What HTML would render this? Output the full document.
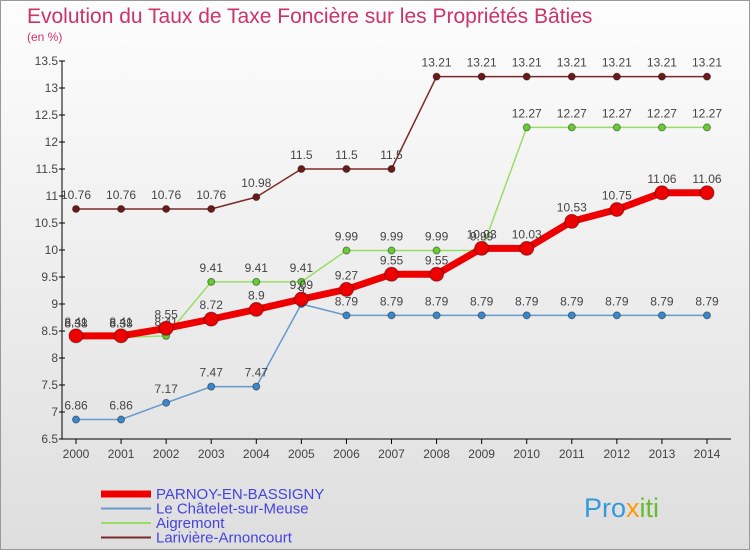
<!DOCTYPE html>
<html><head><meta charset="utf-8"><style>
body{margin:0}
#c{width:750px;height:550px;position:relative;background:linear-gradient(#fdfdfd,#dedede);font-family:"Liberation Sans Narrow","Liberation Sans",sans-serif;overflow:hidden;box-sizing:border-box;border:1px solid #999}
svg text{font-family:"Liberation Sans Narrow","Liberation Sans",sans-serif}
</style></head><body>
<div id="c">
<svg id="s" width="750" height="550">
<text x="26" y="22" font-size="21" fill="#cc3366">Evolution du Taux de Taxe Foncière sur les Propriétés Bâties</text>
<text x="26" y="40" font-size="12" fill="#cc3366">(en %)</text>
</svg>
</div>
<script>
const years=[2000,2001,2002,2003,2004,2005,2006,2007,2008,2009,2010,2011,2012,2013,2014];
const yTicks=[6.5,7,7.5,8,8.5,9,9.5,10,10.5,11,11.5,12,12.5,13,13.5];
const parnoy=[8.41,8.41,8.55,8.72,8.9,9.09,9.27,9.55,9.55,10.03,10.03,10.53,10.75,11.06,11.06];
const chatelet=[6.86,6.86,7.17,7.47,7.47,9,8.79,8.79,8.79,8.79,8.79,8.79,8.79,8.79,8.79];
const aigremont=[8.38,8.38,8.41,9.41,9.41,9.41,9.99,9.99,9.99,9.99,12.27,12.27,12.27,12.27,12.27];
const lariviere=[10.76,10.76,10.76,10.76,10.98,11.5,11.5,11.5,13.21,13.21,13.21,13.21,13.21,13.21,13.21];
const seriesNames=["PARNOY-EN-BASSIGNY","Le Châtelet-sur-Meuse","Aigremont","Larivière-Arnoncourt"];
const NS="http://www.w3.org/2000/svg";
const s=document.getElementById('s');
const X=i=>75+i*(631/14);
const Y=v=>438-(v-6.5)*54;
function el(t,a,p){const e=document.createElementNS(NS,t);for(const k in a)e.setAttribute(k,a[k]);(p||s).appendChild(e);return e;}
let ax=el('line',{x1:61,y1:60,x2:61,y2:438,stroke:'#000'});


let bx=el('line',{x1:61,y1:438,x2:730,y2:438,stroke:'#000'});


yTicks.forEach(v=>{
 el('line',{x1:58,x2:64,y1:Y(v),y2:Y(v),stroke:'#000'});
 if(v<13.5) el('line',{x1:59,x2:63,y1:Y(v)-27,y2:Y(v)-27,stroke:'#e33'});
 const t=el('text',{x:57,y:Y(v)+4,'text-anchor':'end','font-size':12,fill:'#444'});t.textContent=v;
 
 
});
years.forEach((y,i)=>{
 el('line',{x1:X(i),x2:X(i),y1:438,y2:443,stroke:'#000'});
 const t=el('text',{x:X(i),y:457,'text-anchor':'middle','font-size':12,fill:'#444'});t.textContent=y;
 
 
});
function series(d,color,w,r,name,dot){
 const g=el('g',{});
 
 
 el('polyline',{points:d.map((v,i)=>X(i)+','+Y(v)).join(' '),fill:'none',stroke:color,'stroke-width':w},g);
 d.forEach((v,i)=>{
  const c=el('circle',{cx:X(i),cy:Y(v),r:r,fill:dot,stroke:'rgba(0,0,0,0.4)','stroke-width':1},g);
  
  
  const t=el('text',{x:X(i),y:Y(v)-10,'text-anchor':'middle','font-size':12,fill:'#444'},g);t.textContent=v;
  
  
 });
}
series(lariviere,'#7a2a2a',1.5,3.5,'lariviere-series','#6b1a1a');
series(chatelet,'#6699cc',1.5,3.5,'chatelet-series','#3a88cc');
series(aigremont,'#99dd66',1.5,3.5,'aigremont-series','#66cc33');
series(parnoy,'#ee0000',7,7,'parnoy-series','#ee0000');
const lc=['#ee0000','#6699cc','#99dd66','#7a2a2a'],lw=[7,2,2,2];
seriesNames.forEach((n,i)=>{
 const y=493+i*14.5;
 const g=el('g',{});
 
 
 el('line',{x1:100,x2:150,y1:y,y2:y,stroke:lc[i],'stroke-width':lw[i]},g);
 const t=el('text',{x:155,y:y+5,'font-size':15,fill:'#4444dd'},g);t.textContent=n;
});
const lg=el('text',{x:583,y:516,'font-size':27,fill:'#3399dd'});


lg.innerHTML='Pro<tspan fill="#ff9900">x</tspan><tspan fill="#66bb33">iti</tspan>';
</script>
</body></html>
